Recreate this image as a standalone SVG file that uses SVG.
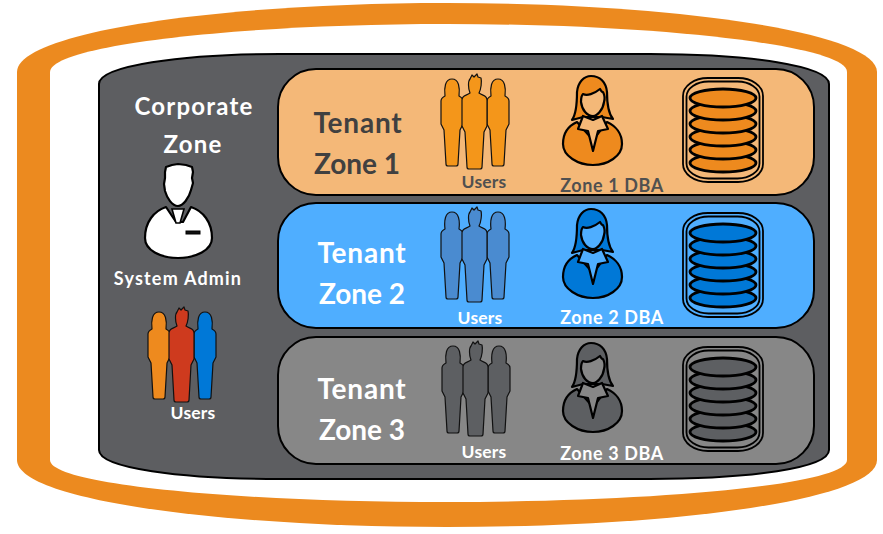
<svg xmlns="http://www.w3.org/2000/svg" width="883" height="534" viewBox="0 0 883 534">
<style>
text{font-family:"Lato","Liberation Sans",sans-serif;font-weight:700;text-anchor:middle}
.big{font-size:28px;letter-spacing:.8px}
.num{letter-spacing:0}
.corp{font-size:24px;fill:#fff;letter-spacing:1.2px}
.sm{font-size:17.500px;letter-spacing:.2px}
.dbal{font-size:18px;letter-spacing:.6px}
.adm{font-size:18px;letter-spacing:1.200px}
.zone{stroke:#000;stroke-width:2}
.ic{stroke:#111;stroke-width:1.2;stroke-linejoin:round}
.dk{stroke:#000;stroke-width:2.2;stroke-linejoin:round}
.disc{stroke-width:2.8}
.bgf{fill:var(--bg)}
</style>
<defs>
<path id="woman" d="M445 96C444 88 445 79 452 79C459 79 460 88 459 96C461 97 463 98 463 101L463 124L460 130L458 164Q458 166 456 166L448 166Q446 166 446 164L444 130L441 124L441 101C441 98 443 97 445 96Z"/>
<path id="man" d="M470 93C468 88 468 81 470 79L472 75L474 77L477 74L478 77L481 78C482 82 481 89 479 93C483 96 487 95 487 100L487 126L484 132L482 167Q482 169 480 169L469 169Q467 169 467 167L465 132L462 126L462 100C462 95 466 96 470 93Z"/>
<g id="dba">
<path d="M572 120C577 113 577 100 577 92C578 82 584 76 591 76C600 76 606 82 607 92C607 100 608 113 613 119L602 117L583 117Z"/>
<path d="M577 122C568 126 563 134 563 144C563 156 578 165 593 165C608 165 622 156 622 144C622 134 616 126 607 122L593 140Z"/>
<path class="bgf" d="M583 116L578 129L588 131L593 151L598 131L608 129L602 116L593 120Z"/>
<path class="bgf" d="M583 94C587 96 594 94 600 89C601 91 602 92 603 92C605 96 605 99 604 102C603 110 597 116 593 116C587 116 582 110 581 102C581 99 581 96 583 94Z"/>
</g>
<g id="db">
<rect x="683" y="78" width="80" height="104" rx="25" ry="18" fill="none" stroke="#000" stroke-width="1.800"/>
<rect x="686.500" y="81.500" width="73" height="97" rx="22" ry="15" fill="none" stroke="#000" stroke-width="1.800"/>
<g class="disc">
<ellipse cx="723" cy="163" rx="33" ry="9"/>
<ellipse cx="723" cy="150" rx="33" ry="9"/>
<ellipse cx="723" cy="137" rx="33" ry="9"/>
<ellipse cx="723" cy="124" rx="33" ry="9"/>
<ellipse cx="723" cy="111" rx="33" ry="9"/>
<ellipse cx="723" cy="98" rx="33" ry="9"/>
</g>
</g>
</defs>
<g id="outer-zone">
<path fill="#EC8A1F" d="M17 72C17 32 220 3 447 3C674 3 877 32 877 72L877 460C877 500 674 527 447 527C220 527 17 500 17 460Z"/>
<path fill="#fff" d="M50 72L50 460C50 485 240 502 447 502C654 502 847 485 847 460L847 72C847 45 654 24 447 24C240 24 50 45 50 72Z"/>
</g>
<g id="corporate-zone">
<path fill="#5D5E61" stroke="#000" stroke-width="2" d="M99 84C99 66 180 54 280 54L650 54C750 54 829 66 829 84L829 450C829 468 750 479 650 479L280 479C180 479 99 468 99 450Z"/>
<text class="corp" x="194" y="115">Corporate</text>
<text class="corp" x="193" y="153">Zone</text>
</g>
<g id="system-admin">
<path fill="#fff" stroke="#000" stroke-width="2.200" stroke-linejoin="round" d="M166 207C154 211 145 222 145 238C145 250 160 258 178 258C196 258 212 250 212 238C212 222 203 211 191 207L183 222L176 222Z"/>
<path fill="#fff" stroke="#000" stroke-width="2.200" stroke-linejoin="round" d="M165 172L166 167L172 165L178 164L186 165L192 167L193 172L192 178L193 183L191 190C189 198 183 206 178 206C172 206 167 198 165 191L164 184L165 178Z"/>
<path fill="#fff" stroke="#000" stroke-width="1.600" d="M172 209L184 209L180 223L176 223Z"/>
<rect x="186" y="231" width="14" height="3" fill="#111" stroke="#000"/>
<text class="adm" x="178" y="285" fill="#fff">System Admin</text>
</g>
<g id="corporate-users">
<g class="ic" transform="translate(-293 233)"><use href="#woman" fill="#EE8A1E"/></g>
<g class="ic" transform="translate(-293 233)"><use href="#woman" x="46" fill="#0078D7"/></g>
<g class="ic" transform="translate(-293 233)"><use href="#man" fill="#CE3A1E"/></g>
<text class="sm" x="193" y="419" fill="#fff">Users</text>
</g>
<g id="tenant-zone-1" style="--bg:#F4B878">
<rect class="zone" x="278" y="69" width="536" height="126" rx="38" fill="#F4B878"/>
<text class="big" x="358" y="133" fill="#404040">Tenant</text>
<text class="big num" x="357" y="174" fill="#404040">Zone 1</text>
<g class="ic" fill="#F4961A"><use href="#woman"/><use href="#woman" x="46"/><use href="#man"/></g>
<text class="sm" x="484" y="188" fill="#505050">Users</text>
<g class="dk" fill="#EE8A1E"><use href="#dba"/></g>
<text class="dbal" x="612" y="192" fill="#505050">Zone 1 DBA</text>
<g class="dk" fill="#EE8A1E"><use href="#db"/></g>
</g>
<g id="tenant-zone-2" style="--bg:#4FAEFF">
<rect class="zone" x="278" y="203" width="536" height="125" rx="38" fill="#4FAEFF"/>
<text class="big" x="362" y="263" fill="#fff">Tenant</text>
<text class="big num" x="362" y="304" fill="#fff">Zone 2</text>
<g class="ic" fill="#4A8BD0" transform="translate(0 133)"><use href="#woman"/><use href="#woman" x="46"/><use href="#man"/></g>
<text class="sm" x="480" y="324" fill="#fff">Users</text>
<g class="dk" fill="#0078D7" transform="translate(0 133)"><use href="#dba"/></g>
<text class="dbal" x="612" y="324" fill="#fff">Zone 2 DBA</text>
<g class="dk" fill="#0078D7" transform="translate(0 135)"><use href="#db"/></g>
</g>
<g id="tenant-zone-3" style="--bg:#878787">
<rect class="zone" x="278" y="337" width="536" height="127" rx="38" fill="#878787"/>
<text class="big" x="362" y="399" fill="#fff">Tenant</text>
<text class="big num" x="362" y="440" fill="#fff">Zone 3</text>
<g class="ic" fill="#5D5F62" transform="translate(1 267)"><use href="#woman"/><use href="#woman" x="46"/><use href="#man"/></g>
<text class="sm" x="484" y="458" fill="#fff">Users</text>
<g class="dk" fill="#5D5F62" transform="translate(0 267)"><use href="#dba"/></g>
<text class="dbal" x="612" y="460" fill="#fff">Zone 3 DBA</text>
<g class="dk" fill="#5D5F62" transform="translate(0 269)"><use href="#db"/></g>
</g>
</svg>
